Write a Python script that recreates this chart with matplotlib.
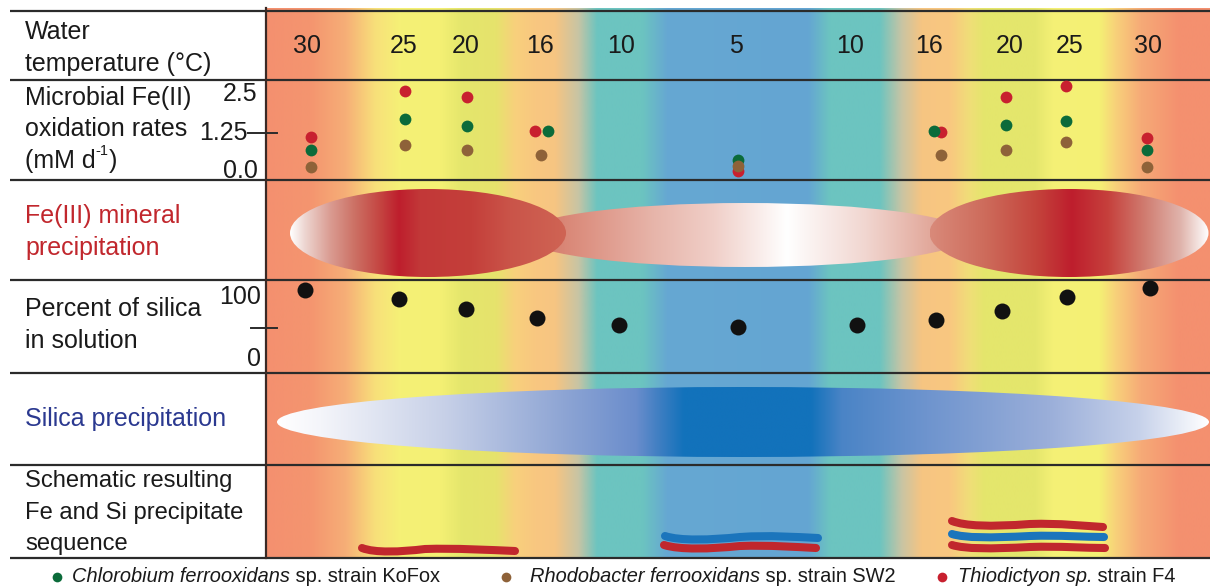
#!/usr/bin/env python3
import numpy as np
import matplotlib
matplotlib.use('Agg')
import matplotlib.pyplot as plt
from matplotlib.patches import Ellipse, PathPatch
from matplotlib.path import Path
from matplotlib.colors import to_rgb
from matplotlib.transforms import blended_transform_factory

plt.rcParams['font.family'] = ['Liberation Sans', 'DejaVu Sans']

W, H = 1210, 586

## data (x positions along the transect, 0-100)
temps    = [30, 25, 20, 16, 10, 5, 10, 16, 20, 25, 30]
temp_pos = [4.4, 14.7, 21.2, 29.1, 37.7, 49.8, 61.9, 70.3, 78.8, 85.1, 93.4]

# Fe(II) oxidation rates, mM/d
red_pos    = [4.9, 14.8, 21.4, 28.6, 50.1, 71.5, 78.4, 84.8, 93.3]
red_rate   = [1.10, 2.60, 2.40, 1.30, 0.00, 1.28, 2.40, 2.76, 1.07]
green_pos  = [4.9, 14.8, 21.4, 29.9, 50.1, 70.8, 78.4, 84.8, 93.3]
green_rate = [0.68, 1.69, 1.46, 1.30, 0.36, 1.30, 1.49, 1.62, 0.68]
brown_pos  = [4.9, 14.8, 21.4, 29.2, 50.1, 71.5, 78.4, 84.8, 93.3]
brown_rate = [0.13, 0.84, 0.68, 0.52, 0.16, 0.52, 0.68, 0.94, 0.13]

silica_pos = [4.2, 14.2, 21.3, 28.8, 37.5, 50.1, 62.6, 71.0, 78.0, 84.9, 93.7]
silica_pct = [112, 96, 81, 66, 55, 52, 55, 63, 77, 100, 114]

strains = [('Chlorobium ferrooxidans', ' sp. strain KoFox', '#0B6B3A'),
           ('Rhodobacter ferrooxidans', ' sp. strain SW2', '#8E6239'),
           ('Thiodictyon sp.', ' strain F4', '#C8202F')]

RED, GREEN, BROWN = '#C8202F', '#0B6B3A', '#8E6239'
LINE = '#2b2b2b'
TXT = '#1a1a1a'
X0, X1 = 265, 1210          # pixel span of the coloured panel


def gradient(stops, n=600):
    xs = np.array([s[0] for s in stops], float)
    cols = np.array([to_rgb(s[1]) for s in stops])
    xx = np.linspace(xs[0], xs[-1], n)
    img = np.stack([np.interp(xx, xs, cols[:, i]) for i in range(3)], axis=-1)
    return img[None, :, :]


def row_axes(y_top, y_bot, v_top, v_bot):
    a = fig.add_axes([X0 / W, 1 - y_bot / H, (X1 - X0) / W, (y_bot - y_top) / H])
    a.set_xlim(0, 100)
    a.set_ylim(v_bot, v_top)
    a.axis('off')
    a.patch.set_visible(False)
    return a


fig = plt.figure(figsize=(W / 100, H / 100), dpi=100)
ax = fig.add_axes([0, 0, 1, 1])
ax.axis('off')

# coloured temperature background
bg_stops = [(265, '#F4906F'), (310, '#F4956F'), (345, '#F6AE77'), (375, '#F8E07A'),
            (400, '#F5F176'), (440, '#F4F074'), (462, '#E4E66C'), (495, '#E6E36C'),
            (515, '#F8D07C'), (535, '#F9C780'), (555, '#F6C582'), (578, '#C8C4A4'),
            (597, '#6CC4C0'), (642, '#6CC4C0'), (667, '#66A8D2'), (808, '#64A5D3'),
            (830, '#6CC4C0'), (880, '#6CC4C0'), (902, '#C8C4A4'), (922, '#F6C582'),
            (950, '#F9C780'), (970, '#F0DE78'), (985, '#E4E66C'), (1035, '#E4E66C'),
            (1055, '#F5F176'), (1100, '#F4F074'), (1117, '#F8D07A'), (1142, '#F6AA77'),
            (1180, '#F4906F'), (1210, '#F4906F')]
ax.imshow(gradient(bg_stops), extent=(265, 1210, 558, 8), aspect='auto',
          interpolation='bilinear', zorder=0)

# Fe(III) ellipses: middle first, side ones on top
fe_shapes = [
    ((745, 235), 450, 64, [(520, '#D07060'), (575, '#DB8C7C'), (654, '#E7B5AA'),
                           (714, '#F0CFC8'), (787, '#FFFFFF'), (866, '#F1D6D0'),
                           (927, '#E3AB9E'), (970, '#D89080')]),
    ((428, 233), 276, 88, [(290, '#FFFFFF'), (305, '#EDD5D0'), (330, '#DA9C92'),
                           (355, '#CC7064'), (381, '#C44340'), (399, '#BE1E2D'),
                           (420, '#C23838'), (472, '#C43F3A'), (510, '#CA5449'),
                           (566, '#CF6454')]),
    ((1069, 233), 279, 88, [(930, '#D98A7A'), (987, '#CD6A5A'), (1036, '#C4443C'),
                            (1072, '#BE1E2D'), (1108, '#C6403C'), (1145, '#D07C70'),
                            (1181, '#E0B4AC'), (1209, '#FFFFFF')]),
]
for (cx, cy), w, h, stops in fe_shapes:
    e = Ellipse((cx, cy), w, h, transform=ax.transData)
    im = ax.imshow(gradient(stops), extent=(stops[0][0], stops[-1][0], cy + h / 2, cy - h / 2),
                   aspect='auto', interpolation='bilinear', zorder=1)
    im.set_clip_path(e)

# silica ellipse
si_stops = [(277, '#FFFFFF'), (320, '#F4F5FA'), (442, '#C8D1E8'), (563, '#8EA5D4'),
            (636, '#6A8DCC'), (660, '#3D7EC2'), (684, '#1272BB'), (811, '#1272BB'),
            (842, '#4A84C6'), (927, '#6E94CE'), (1048, '#9AAED9'), (1139, '#C6D1EA'),
            (1209, '#FFFFFF')]
e = Ellipse((743, 422), 932, 70, transform=ax.transData)
im = ax.imshow(gradient(si_stops), extent=(277, 1209, 457, 387), aspect='auto',
               interpolation='bilinear', zorder=1)
im.set_clip_path(e)

# grid lines
for y in [11, 80, 180, 280, 373, 465, 558]:
    ax.plot([10, 1210], [y, y], color=LINE, lw=1.6, zorder=3, solid_capstyle='butt')
ax.plot([266, 266], [8, 558], color='#3a2a25', lw=1.6, zorder=3)

# row labels
rows = [(32, ['Water', 'temperature (°C)'], TXT, 18),
        (98, ['Microbial Fe(II)', 'oxidation rates', None], TXT, 18),
        (216, ['Fe(III) mineral', 'precipitation'], '#C1272D', 18),
        (309, ['Percent of silica', 'in solution'], TXT, 18),
        (419, ['Silica precipitation'], '#2B3990', 18),
        (481, ['Schematic resulting', 'Fe and Si precipitate', 'sequence'], TXT, 17.1)]
for y0, lines, col, fs in rows:
    for i, s in enumerate(lines):
        if s is not None:
            ax.text(25, y0 + i * 31.5, s, fontsize=fs, color=col, ha='left', va='center')

# "(mM d-1)" with a small raised -1
t_unit = ax.text(25, 98 + 2 * 31.5, '(mM d', fontsize=18, color=TXT, ha='left', va='center')
t_sup = ax.annotate('-1', xy=(1, 0.62), xycoords=t_unit, fontsize=10.5, color=TXT,
                    ha='left', va='bottom')
ax.annotate(')', xy=(1, 0), xycoords=(t_sup, t_unit), fontsize=18, color=TXT,
            ha='left', va='bottom')

# temperatures
for t, p in zip(temps, temp_pos):
    ax.text(X0 + p * (X1 - X0) / 100, 46, str(t), fontsize=18, color=TXT,
            ha='center', va='center')

# oxidation rate row
ax_r = row_axes(80, 179, (171 - 80) * 2.5 / 77, (171 - 179) * 2.5 / 77)
ax_r.plot(red_pos, red_rate, 'o', color=RED, ms=8.5, mew=0, clip_on=False)
ax_r.plot(green_pos, green_rate, 'o', color=GREEN, ms=8.5, mew=0, clip_on=False)
ax_r.plot(brown_pos, brown_rate, 'o', color=BROWN, ms=8.5, mew=0, clip_on=False)
tr = blended_transform_factory(ax.transData, ax_r.transData)
for v, lab, xr in [(2.5, '2.5', 257), (1.25, '1.25', 248), (0.0, '0.0', 258)]:
    ax_r.text(xr, v, lab, transform=tr, fontsize=18, ha='right', va='center', color=TXT)
ax_r.plot([248, 277], [1.25, 1.25], transform=tr, color=LINE, lw=1.4, clip_on=False)

# silica row
ax_s = row_axes(280, 373, (359 - 280) * 100 / 62, (359 - 373) * 100 / 62)
ax_s.plot(silica_pos, silica_pct, 'o', color='#111111', ms=11.5, mew=0, clip_on=False)
ts = blended_transform_factory(ax.transData, ax_s.transData)
for v, lab in [(100, '100'), (0, '0')]:
    ax_s.text(261, v, lab, transform=ts, fontsize=18, ha='right', va='center', color=TXT)
ax_s.plot([251, 277], [50, 50], transform=ts, color=LINE, lw=1.4, clip_on=False)

# schematic precipitate sequence strokes
def stroke(pts, col):
    codes = [Path.MOVETO] + [Path.CURVE4] * (len(pts) - 1)
    ax.add_patch(PathPatch(Path(pts, codes), fill=False, edgecolor=col, lw=5.8,
                           capstyle='round', zorder=4))

SRED, SBLUE = '#C1272D', '#1B75BC'
stroke([(362, 548), (375, 553), (400, 552), (425, 549),
        (455, 548), (490, 550), (515, 551)], SRED)
stroke([(665, 536), (680, 541), (710, 540), (740, 537),
        (770, 535), (795, 537), (818, 538)], SBLUE)
stroke([(664, 545), (680, 550), (710, 549), (740, 546),
        (770, 545), (795, 547), (816, 548)], SRED)
stroke([(952, 521), (965, 526), (990, 527), (1030, 524),
        (1060, 523), (1085, 526), (1103, 527)], SRED)
stroke([(952, 534), (965, 538), (990, 538), (1030, 536),
        (1060, 535), (1085, 537), (1104, 537)], SBLUE)
stroke([(952, 545), (965, 549), (990, 549), (1030, 547),
        (1060, 546), (1085, 548), (1105, 548)], SRED)

# legend
for (it, rest, col), mx, tx in zip(strains, [57, 506, 942], [72, 530, 958]):
    ax.plot(mx, 577, 'o', color=col, ms=7, mew=0)
    t1 = ax.text(tx, 577, it, fontsize=14.4, style='italic', ha='left',
                 va='center', color=TXT)
    ax.annotate(rest, xy=(1, 0), xycoords=t1, fontsize=14.4, ha='left', va='bottom',
                color=TXT)

ax.set_xlim(0, W)
ax.set_ylim(H, 0)

fig.savefig('out.png', dpi=100)
